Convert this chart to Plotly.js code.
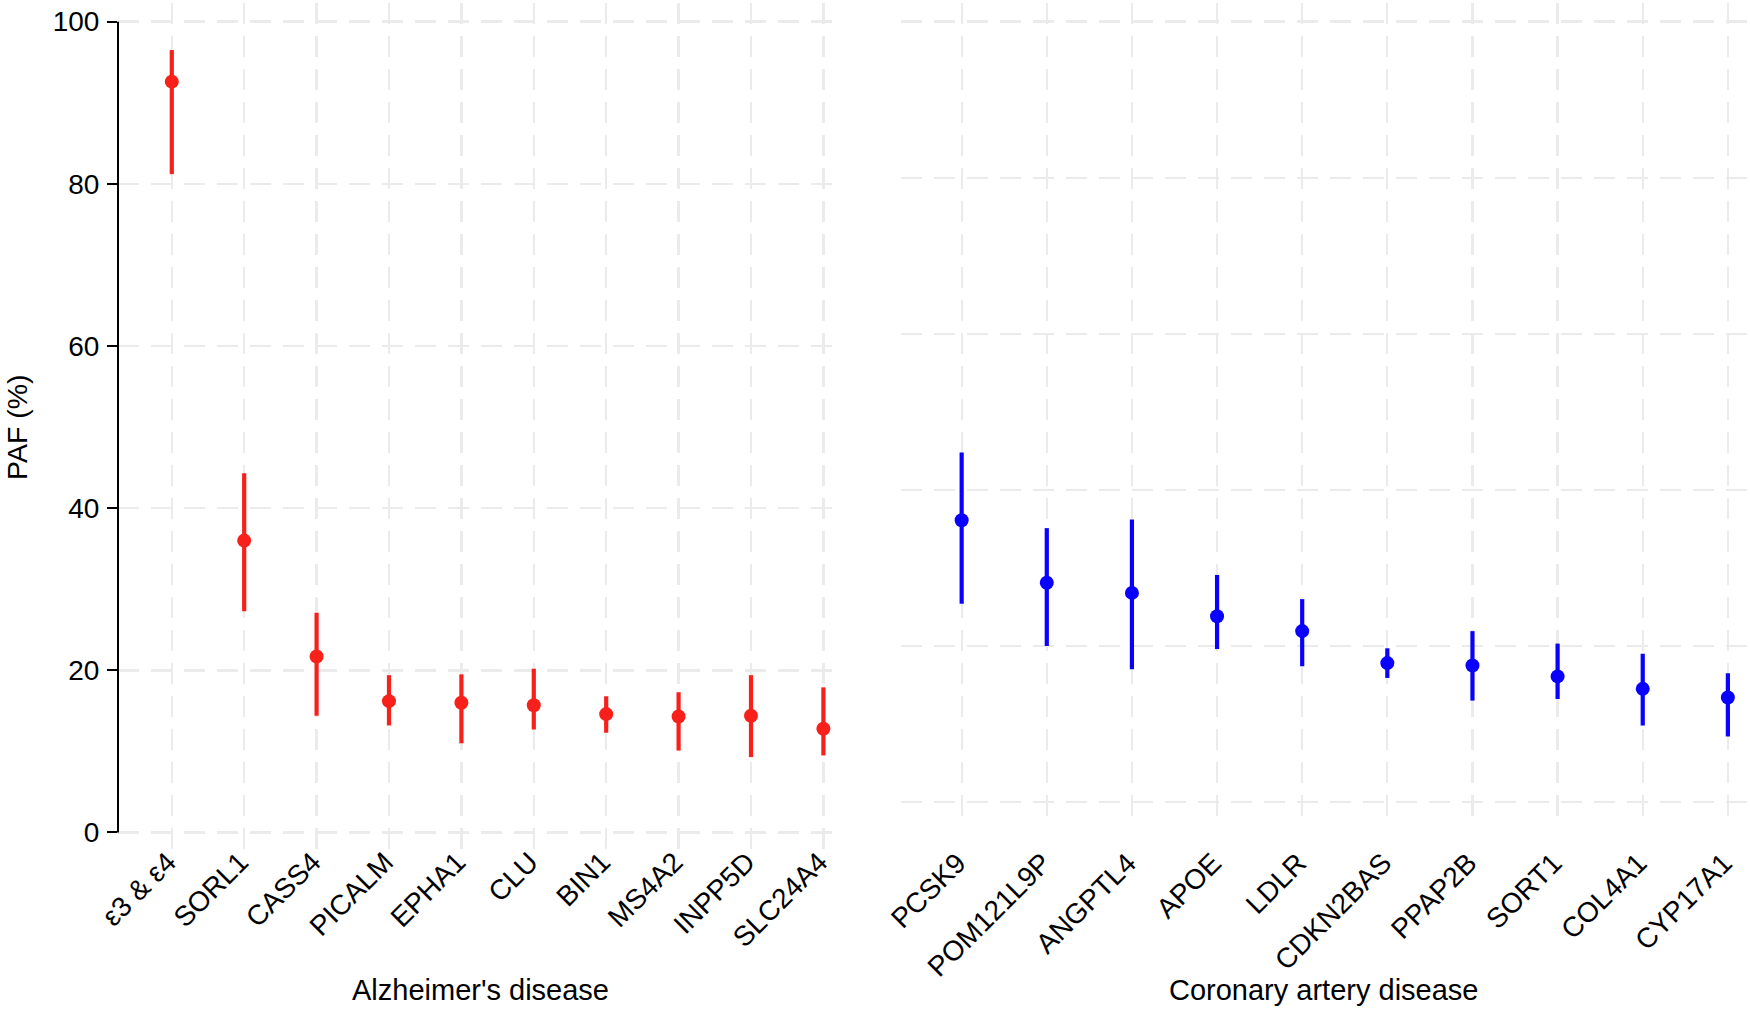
<!DOCTYPE html>
<html>
<head>
<meta charset="utf-8">
<script src="https://cdn.plot.ly/plotly-3.0.1.min.js"></script>
<style>
  html, body { margin: 0; padding: 0; background: #ffffff; }
  #chart { width: 1750px; height: 1010px; }
</style>
</head>
<body>
<div id="chart"></div>
<script>
// ---- Data ----
const adGenes = ["ε3 & ε4", "SORL1", "CASS4", "PICALM", "EPHA1", "CLU", "BIN1", "MS4A2", "INPP5D", "SLC24A4"];
const adPAF   = [92.6, 36.0, 21.7, 16.2, 16.0, 15.7, 14.6, 14.3, 14.4, 12.8];
const adLower = [81.2, 27.3, 14.4, 13.2, 11.0, 12.7, 12.3, 10.1, 9.3, 9.5];
const adUpper = [96.5, 44.3, 27.1, 19.4, 19.5, 20.2, 16.8, 17.3, 19.4, 17.9];

const cadGenes = ["PCSK9", "POM121L9P", "ANGPTL4", "APOE", "LDLR", "CDKN2BAS", "PPAP2B", "SORT1", "COL4A1", "CYP17A1"];
const cadPAF   = [36.1, 28.1, 26.8, 23.8, 21.9, 17.8, 17.5, 16.1, 14.5, 13.4];
const cadLower = [25.4, 20.0, 17.0, 19.6, 17.4, 15.9, 13.0, 13.2, 9.8, 8.4];
const cadUpper = [44.8, 35.1, 36.2, 29.1, 26.0, 19.7, 21.9, 20.3, 19.0, 16.5];

const yTicks = [0, 20, 40, 60, 80, 100];
const titleLeft = "Alzheimer's disease";
const titleRight = "Coronary artery disease";
const yTitle = "PAF (%)";

// ---- Styling ----
const FONT = "Liberation Sans, Arial, Helvetica, sans-serif";
const RED = "#f8201a";
const BLUE = "#0a00ff";
const GRID = "#ebebeb";
const DASH = "21px,12px";

function trace(genes, paf, lo, hi, color, xa, ya) {
  return {
    type: "scatter", mode: "markers",
    x: genes, y: paf, xaxis: xa, yaxis: ya,
    marker: { color: color, size: 14 },
    error_y: {
      type: "data", symmetric: false,
      array: hi.map((v, i) => v - paf[i]),
      arrayminus: paf.map((v, i) => v - lo[i]),
      color: color, thickness: 4.2, width: 0
    },
    hoverinfo: "x+y", showlegend: false, cliponaxis: false
  };
}

const data = [
  trace(adGenes, adPAF, adLower, adUpper, RED, "x", "y"),
  trace(cadGenes, cadPAF, cadLower, cadUpper, BLUE, "x2", "y2")
];

const W = 1750, H = 1010, T = 3, B = 160;
const plotH = H - T - B;

const commonX = {
  type: "category", showgrid: true, gridcolor: GRID, gridwidth: 2.3, griddash: DASH,
  zeroline: false, showline: false, ticks: "", tickangle: -45,
  tickfont: { family: FONT, size: 28, color: "#000" }, ticklabelshift: -4
};
const commonY = {
  range: [-2.16, 102.3], tickvals: yTicks, showgrid: true, gridcolor: GRID, gridwidth: 2.5,
  griddash: DASH, zeroline: false, showline: false
};

const layout = {
  width: W, height: H,
  margin: { l: 0, r: 0, t: T, b: B, pad: 0 },
  paper_bgcolor: "#ffffff", plot_bgcolor: "rgba(0,0,0,0)",
  font: { family: FONT, color: "#000" },
  xaxis: Object.assign({}, commonX, {
    domain: [118 / W, 842 / W], range: [-0.743, 9.257], anchor: "y",
    categoryorder: "array", categoryarray: adGenes, ticklabelstandoff: -11
  }),
  yaxis: Object.assign({}, commonY, {
    domain: [0, 1], anchor: "x",
    ticks: "outside", ticklen: 10, tickwidth: 2, tickcolor: "#000", ticklabelstandoff: 2,
    tickfont: { family: FONT, size: 28, color: "#000" }
  }),
  xaxis2: Object.assign({}, commonX, {
    domain: [900.7 / W, 1], range: [-0.716, 9.26], anchor: "y2",
    categoryorder: "array", categoryarray: cadGenes, ticklabelstandoff: 22
  }),
  yaxis2: Object.assign({}, commonY, {
    domain: [(H - B - 818) / plotH, 1], range: [-2.05, 102.4], anchor: "x2",
    showticklabels: false, ticks: ""
  }),
  shapes: [
    { type: "line", xref: "paper", yref: "y", x0: 118 / W, x1: 118 / W, y0: 0, y1: 100,
      line: { color: "#000", width: 2 } }
  ],
  annotations: [
    { text: titleLeft, xref: "paper", yref: "paper", x: 480 / W, y: -(990 - (H - B)) / plotH,
      xanchor: "center", yanchor: "middle", showarrow: false,
      font: { family: FONT, size: 29, color: "#000" } },
    { text: titleRight, xref: "paper", yref: "paper", x: 1323 / W, y: -(990 - (H - B)) / plotH,
      xanchor: "center", yanchor: "middle", showarrow: false,
      font: { family: FONT, size: 29, color: "#000" } },
    { text: yTitle, xref: "paper", yref: "paper", x: 17 / W, y: ((H - B) - 427) / plotH,
      xanchor: "center", yanchor: "middle", showarrow: false, textangle: -90,
      font: { family: FONT, size: 28.5, color: "#000" } }
  ]
};

Plotly.newPlot("chart", data, layout, { staticPlot: true, displayModeBar: false });
</script>
</body>
</html>
